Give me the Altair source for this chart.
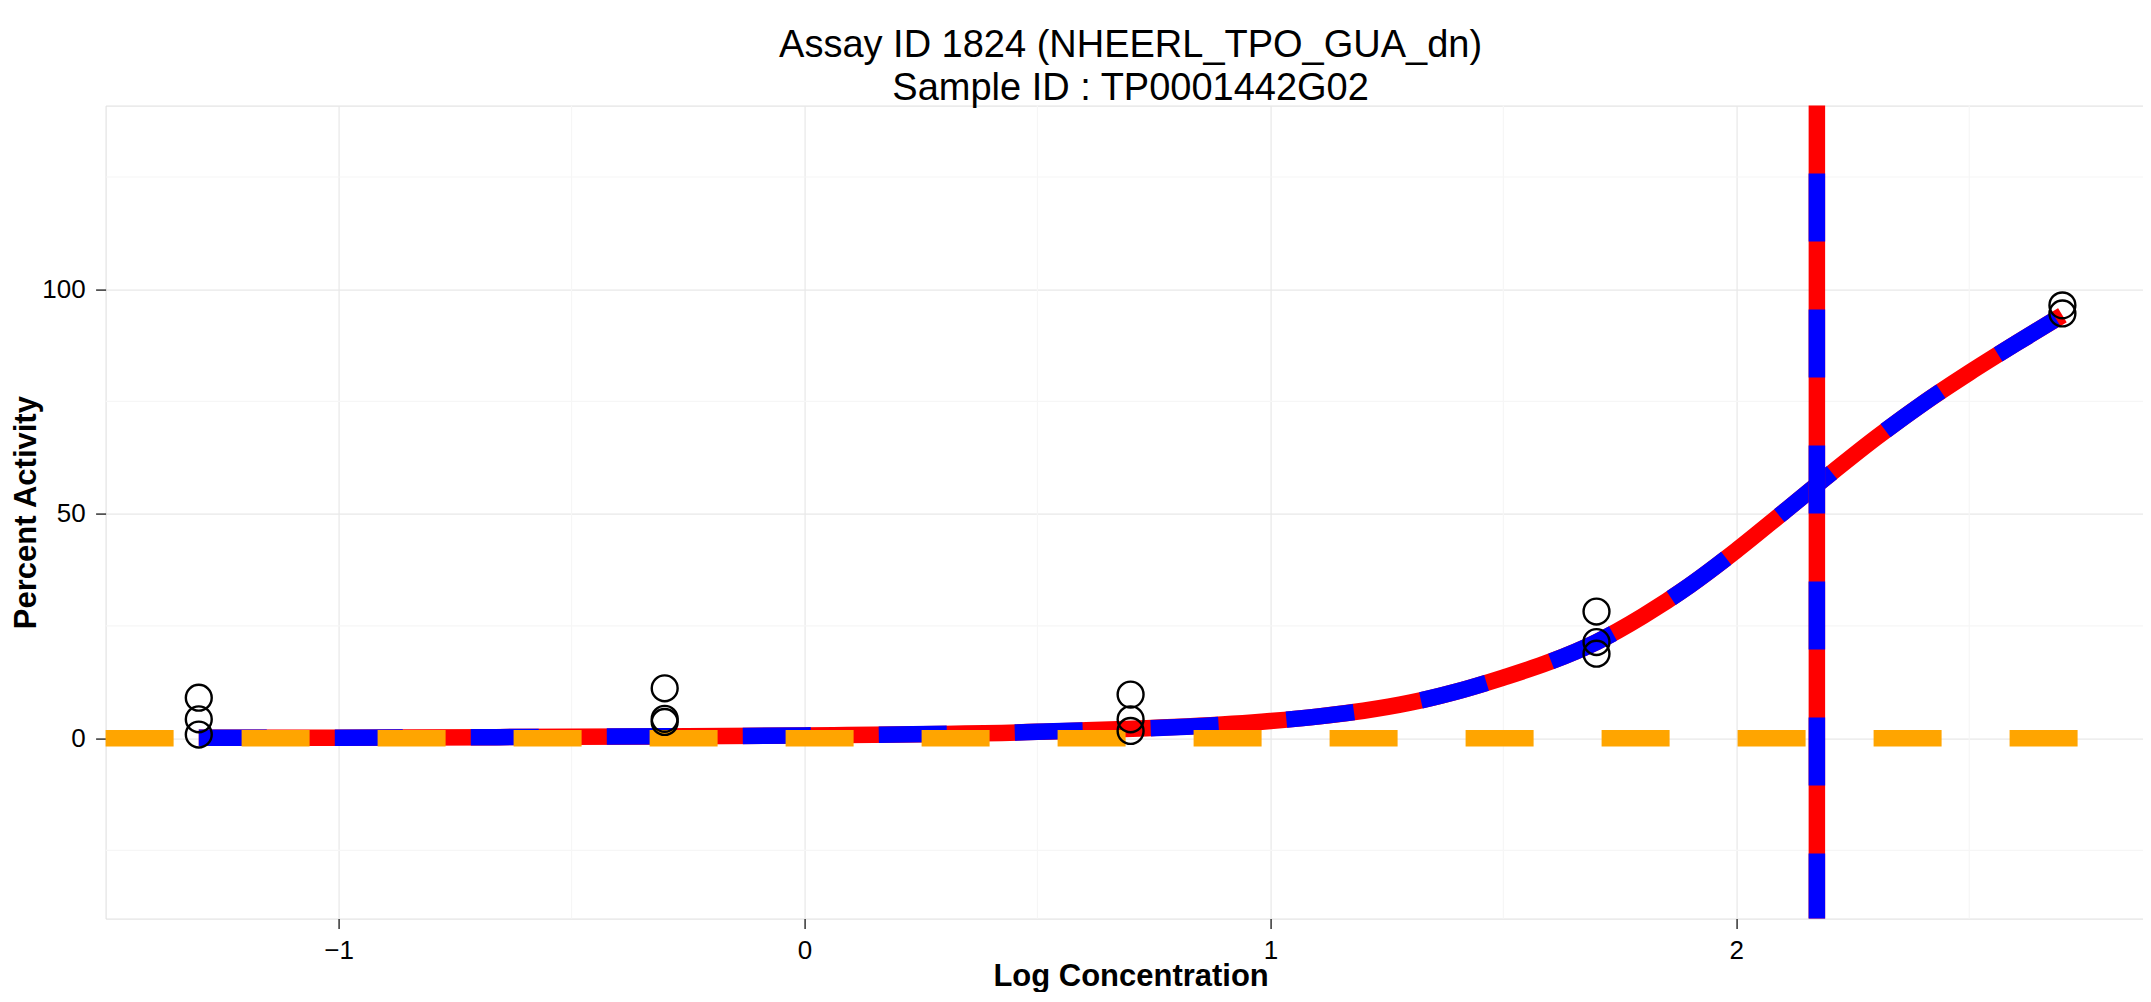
import altair as alt
import pandas as pd

# ---------------- data ----------------
title_lines = ["Assay ID 1824 (NHEERL_TPO_GUA_dn)", "Sample ID : TP0001442G02"]
x_title = "Log Concentration"
y_title = "Percent Activity"

x_ticks = [-1, 0, 1, 2]
y_ticks = [0, 50, 100]
x_minor = [-0.5, 0.5, 1.5, 2.5]
y_minor = [-25, 25, 75, 125]

x_domain = [-1.5, 2.9]
y_domain = [-40.2, 140.9]

# observed responses (open circles)
pt_logc = [-1.3, -1.3, -1.3, -0.3, -0.3, -0.3, 0.7, 0.7, 0.7, 1.7, 1.7, 1.7, 2.7, 2.7]
pt_resp = [9.0, 4.2, 0.8, 11.1, 4.3, 3.6, 9.7, 4.2, 1.6, 28.2, 21.4, 18.8, 96.4, 94.6]

# fitted curve, read point by point
curve_logc = [-1.3, -1.0, -0.5, 0.0, 0.5, 1.0, 1.1, 1.2, 1.3, 1.4, 1.5, 1.6, 1.7, 1.8,
              1.9, 2.0, 2.1, 2.2, 2.3, 2.4, 2.5, 2.6, 2.7]
curve_resp = [0.1, 0.1, 0.3, 0.6, 1.4, 3.8, 4.8, 6.1, 7.9, 10.4, 13.5, 17.0, 21.4, 27.2,
              34.0, 41.8, 50.2, 58.7, 66.9, 74.5, 81.4, 87.9, 94.2]

ac50 = [2.173]
cutoff = [0.0]

# ---------------- layout ----------------
W, H = 2050, 813
FONT = "Liberation Sans"

pts = pd.DataFrame({"logc": pt_logc, "resp": pt_resp})
curve = pd.DataFrame({"logc": curve_logc, "resp": curve_resp})
vline = pd.DataFrame({"logc": ac50})
hline = pd.DataFrame({"resp": cutoff})
xmin = pd.DataFrame({"logc": x_minor})
ymin = pd.DataFrame({"resp": y_minor})

xscale = alt.Scale(domain=x_domain, nice=False, zero=False)
yscale = alt.Scale(domain=y_domain, nice=False, zero=False)

common_axis = dict(
    grid=True, gridColor="#e8e8e8", gridWidth=1.2, domain=False,
    ticks=True, tickSize=10, tickColor="#333333", tickWidth=1.5,
    labelFont=FONT, labelFontSize=26, labelColor="black",
    titleFont=FONT, titleFontSize=31, titleFontWeight="bold", titleColor="black",
    labelOverlap=False, labelFlush=False,
)
xaxis = alt.Axis(values=x_ticks, labelPadding=9, title=x_title,
                 titleX=W / 2, titleY=66.5, titleBaseline="alphabetic", titleAlign="center",
                 **common_axis)
yaxis = alt.Axis(values=y_ticks, labelPadding=10.5, title=y_title,
                 titleX=-79, titleY=H / 2, titleAngle=270, titleBaseline="middle",
                 titleAlign="center", **common_axis)

X = alt.X("logc:Q", scale=xscale, axis=xaxis)
Y = alt.Y("resp:Q", scale=yscale, axis=yaxis)

LW = 16.5
DASH = [68, 68]

minor_x = alt.Chart(xmin).mark_rule(color="#f6f6f6", strokeWidth=1.2).encode(x=X)
minor_y = alt.Chart(ymin).mark_rule(color="#f6f6f6", strokeWidth=1.2).encode(y=Y)

curve_red = alt.Chart(curve).mark_line(color="red", strokeWidth=LW, interpolate="monotone").encode(x=X, y=Y)
curve_blue = alt.Chart(curve).mark_line(color="blue", strokeWidth=LW, interpolate="monotone",
                                        strokeDash=DASH).encode(x=X, y=Y)
# full-width rule is drawn from the right edge to the left: offset keeps a dash at the left edge
cut_line = alt.Chart(hline).mark_rule(color="orange", strokeWidth=LW, strokeDash=DASH,
                                      strokeDashOffset=58).encode(y=Y)
v_red = alt.Chart(vline).mark_rule(color="red", strokeWidth=LW).encode(x=X)
v_blue = alt.Chart(vline).mark_rule(color="blue", strokeWidth=LW, strokeDash=DASH,
                                    strokeDashOffset=68).encode(x=X)
points = alt.Chart(pts).mark_point(shape="circle", filled=False, color="black",
                                   strokeWidth=2.4, size=670, opacity=1).encode(x=X, y=Y)

chart = alt.layer(
    minor_x, minor_y, curve_red, curve_blue, cut_line, v_red, v_blue, points
).properties(
    width=W, height=H,
    title=alt.TitleParams(text=title_lines, font=FONT, fontSize=38, fontWeight="normal",
                          color="black", lineHeight=43, anchor="middle", offset=-11),
    autosize=alt.AutoSizeParams(type="none"),
    padding={"left": 97.6, "top": 97.6, "right": -13, "bottom": 73.5},
).configure_view(
    stroke="#7f7f7f", strokeWidth=1.6, fill="white"
).configure(background="white")

chart.save("out.html", embed_options={"renderer": "svg", "actions": False})
